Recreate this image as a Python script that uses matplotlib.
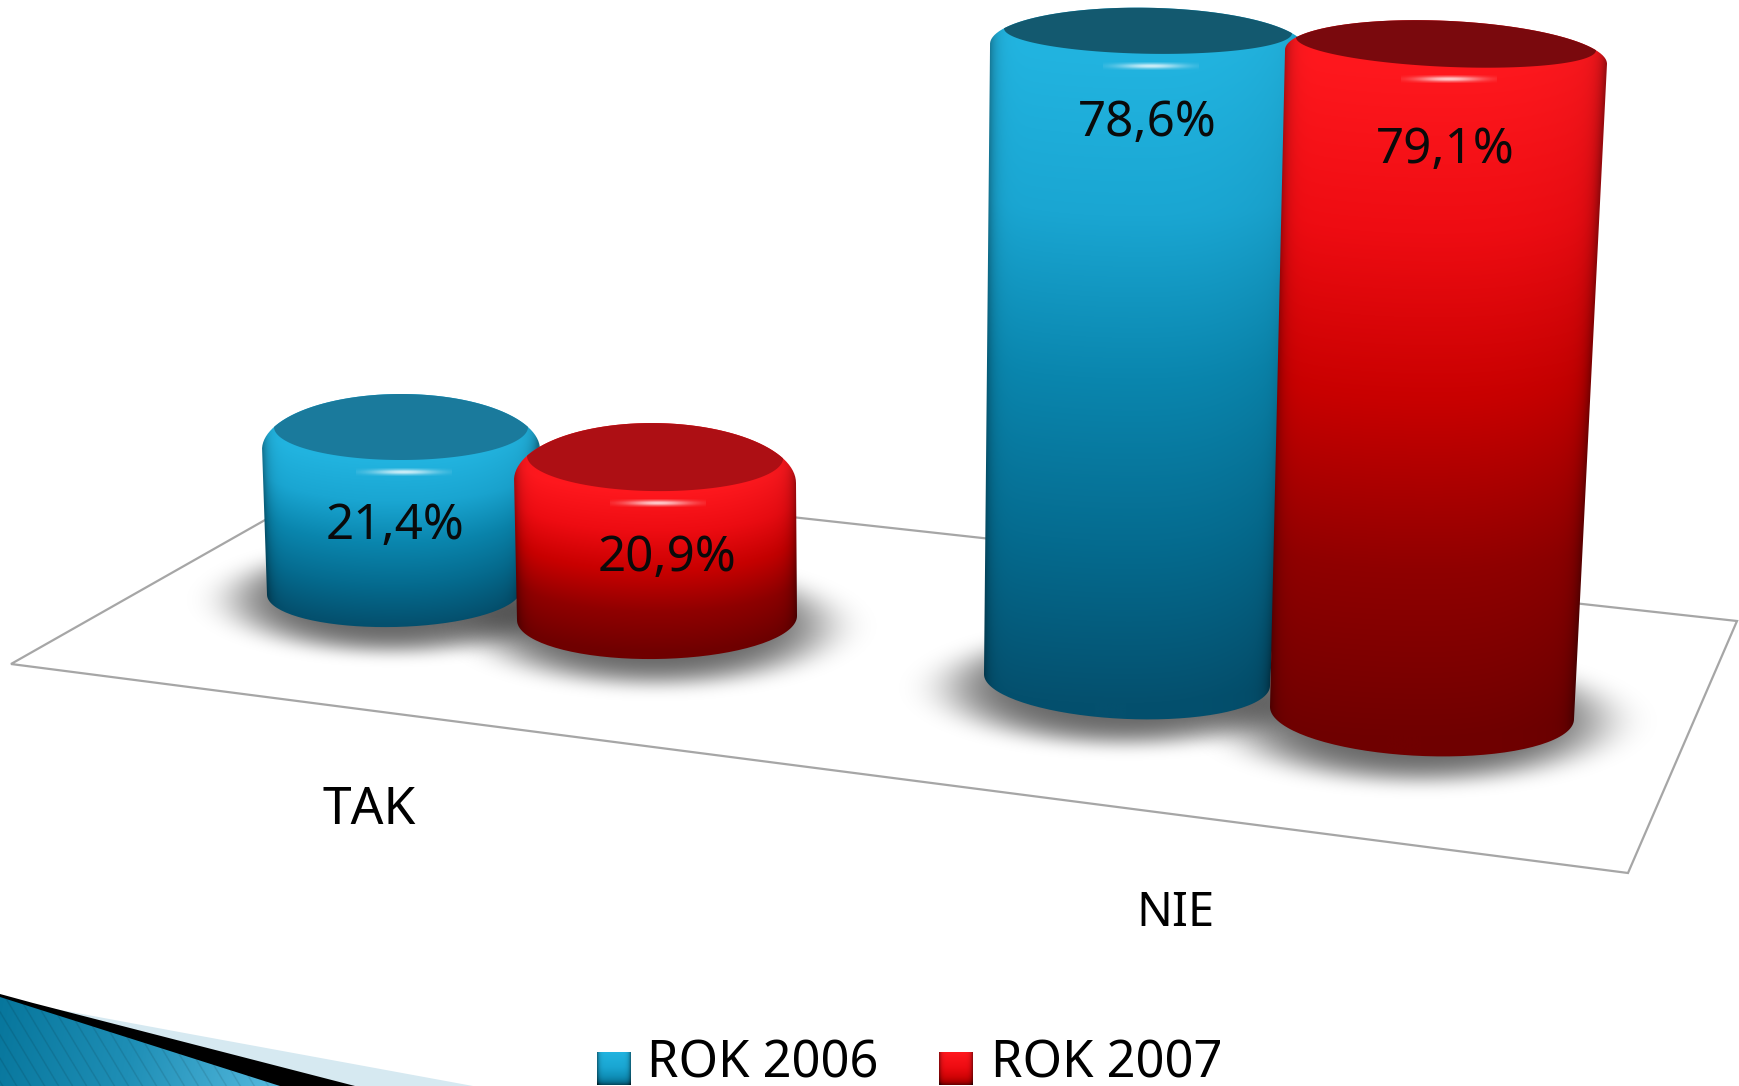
from matplotlib import pyplot as plt
from matplotlib.path import Path
from matplotlib.patches import Polygon, PathPatch
import matplotlib
import numpy as np
matplotlib.use('Agg')

categories = ['TAK', 'NIE']
series_names = ['ROK 2006', 'ROK 2007']
rok_2006 = [21.4, 78.6]
rok_2007 = [20.9, 79.1]

plt.rcParams['font.family'] = ['Noto Sans', 'DejaVu Sans']

W, H = 1740, 1086

blue_stops = ['#22b4e0', '#1aa6d2', '#0a86ae', '#056c90', '#04506e']
red_stops = ['#ff181e', '#ee0c12', '#c80000', '#900000', '#700000']
blue_top = ['#1a7a9c', '#13596f']
red_top = ['#ad0f14', '#7a090d']

# perspective: every cylinder has its own base and scale (px per percent)
# base_x, base_y, base_a, base_b, base_tilt, top_x, top_a, top_b, top_tilt, overhang, scale
geom_2006 = [(394, 592, 127, 35, -0.02, 401, 127, 33, 0.0, 12, 7.71),
             (1127, 680, 143, 39, 0.04, 1148, 144, 23, 0.017, 14, 8.26)]
geom_2007 = [(657, 618, 140, 41, -0.015, 655, 128, 34, 0.01, 13, 7.70),
             (1422, 713, 152, 43, 0.04, 1446, 150, 23, 0.043, 11, 8.46)]
label_pos_2006 = [(395, 526), (1147, 123)]
label_pos_2007 = [(667, 558), (1445, 150)]


def rgb(c):
    return np.array(matplotlib.colors.to_rgb(c))


def ramp(stops, t):
    t = np.clip(t, 0, 1)
    cols = np.array([rgb(c) for c in stops])
    return np.stack([np.interp(t, np.linspace(0, 1, len(stops)), cols[:, i]) for i in range(3)], axis=-1)


def glow(ax, cx, cy, sx, sy, color, peak, power=2.0, z=1):
    x0, x1 = cx - sx * 1.5, cx + sx * 1.5
    y0, y1 = cy - sy * 1.5, cy + sy * 1.5
    xx, yy = np.meshgrid(np.linspace(x0, x1, 240), np.linspace(y0, y1, 120))
    r2 = ((xx - cx) / sx) ** 2 + ((yy - cy) / sy) ** 2
    img = np.zeros(xx.shape + (4,))
    img[..., :3] = rgb(color)
    img[..., 3] = peak * np.exp(-r2 ** power)
    ax.imshow(img, extent=(x0, x1, y1, y0), aspect='auto', zorder=z, interpolation='bilinear')


def cylinder(ax, value, g, stops, top_cols, z):
    bx, by, ba, bb, bk, tx, ta, tb, tk, over, scale = g
    ty = by - value * scale

    # the outer top arc passes through both tips of the lid
    A = ta + over
    q = np.sqrt(1 - (ta / A) ** 2)
    d = q * tb / (1 - q)
    B = tb + d

    th = np.linspace(0, np.pi, 80)
    front = np.c_[bx + ba * np.cos(th), by + bb * np.sin(th) + bk * ba * np.cos(th)]
    th2 = np.linspace(np.pi, 2 * np.pi, 120)
    outer = np.c_[tx + A * np.cos(th2), ty + d + B * np.sin(th2) + tk * A * np.cos(th2)]
    body = Path(np.vstack([front, outer, front[:1]]))

    x0, x1 = min(bx - ba, tx - A) - 2, max(bx + ba, tx + A) + 2
    y0, y1 = ty - tb - 8, by + bb + 20
    xx, yy = np.meshgrid(np.linspace(x0, x1, 500), np.linspace(y0, y1, 800))
    v = np.clip((yy - ty) / (by - ty), 0, 1)
    cx = tx + (bx - tx) * v
    ca = A + (ba - A) * v
    u = np.clip((xx - cx) / ca, -1, 1)
    arc = np.sqrt(1 - u ** 2)
    t = (yy - (ty + tb * arc)) / (by - ty)
    img = ramp(stops, t)
    # darker only right at the sides
    side = 1 - 0.32 * np.abs(u) ** 24 - 0.06 * np.clip(u, 0, 1) ** 3
    img = img * side[..., None]
    im = ax.imshow(img, extent=(x0, x1, y1, y0), aspect='auto', zorder=z, interpolation='bilinear')
    im.set_clip_path(body, transform=ax.transData)

    # flat lid, darker than the side: outer arc between the tips, then its own lower arc
    col = top_cols[0] if value < 50 else top_cols[1]
    phi = np.arccos(ta / A)
    th4 = np.linspace(np.pi + phi, 2 * np.pi - phi, 100)
    lid_up = np.c_[tx + A * np.cos(th4), ty + d + B * np.sin(th4) + tk * A * np.cos(th4)]
    th5 = np.linspace(0, np.pi, 100)
    lid_low = np.c_[tx + ta * np.cos(th5), ty + tb * np.sin(th5) + tk * ta * np.cos(th5)]
    lid = Path(np.vstack([lid_up, lid_low, lid_up[:1]]))
    ax.add_patch(PathPatch(lid, facecolor=col, edgecolor='none', zorder=z + 0.1))
    # specular spot under the lid
    glow(ax, tx + 3, ty + tb + 12, 32, 2.6, '#ffffff', 0.8, power=1.0, z=z + 0.2)


fig = plt.figure(figsize=(W / 100, H / 100), dpi=100, facecolor='white')
ax = fig.add_axes([0, 0, 1, 1])

# floor of the chart
floor = [(11, 664), (355, 469), (1737, 621), (1628, 873)]
ax.add_patch(Polygon(floor, closed=True, facecolor='white', edgecolor='#a6a6a6', linewidth=1.6, zorder=1))

# shadows
for g in geom_2006 + geom_2007:
    glow(ax, g[0] - 2, g[1] + 8, g[2] + 30, g[3] + 17, '#000000', 0.6, power=3.0, z=2)

# bars, red in front of blue
for i in range(len(categories)):
    cylinder(ax, rok_2006[i], geom_2006[i], blue_stops, blue_top, 3 + i * 2)
    cylinder(ax, rok_2007[i], geom_2007[i], red_stops, red_top, 4 + i * 2)

for vals, pos in ((rok_2006, label_pos_2006), (rok_2007, label_pos_2007)):
    for v, p in zip(vals, pos):
        ax.text(p[0], p[1], f'{v:.1f}%'.replace('.', ','), fontsize=35.5, color='#0a0a0a',
                ha='center', va='center', zorder=10)

ax.text(369, 810, categories[0], fontsize=37, color='black', ha='center', va='center', zorder=10)
ax.text(1175, 914, categories[1], fontsize=34, color='black', ha='center', va='center', zorder=10)

# legend
legend_x = [(597, 631), (939, 973)]
legend_text_x = [647, 991]
for (a, b), tx, name, stops in zip(legend_x, legend_text_x, series_names, (blue_stops, red_stops)):
    yy, xx = np.mgrid[0:1:60j, -1:1:60j]
    img = ramp(stops, yy * 0.55) * (1 - 0.45 * np.abs(xx) ** 8 - 0.45 * yy ** 10)[..., None]
    ax.imshow(img, extent=(a, b, 1085, 1052), aspect='auto', zorder=5, interpolation='bilinear')
    ax.text(tx, 1078, name, fontsize=36.5, color='black', ha='left', va='baseline', zorder=10)

# corner decoration of the slide
ax.add_patch(Polygon([(50, 1008), (190, 1034), (473, 1086), (50, 1086)], closed=True,
                     facecolor='#d6e9f1', edgecolor='none', zorder=1))
ax.add_patch(Polygon([(0, 994), (33, 1003), (355, 1086), (0, 1086)], closed=True,
                     facecolor='black', edgecolor='none', zorder=1.1))
xx, yy = np.meshgrid(np.linspace(0, 290, 580), np.linspace(990, 1086, 192))
g = (xx + 0.2 * (yy - 990)) / 290
img = ramp(['#07769c', '#1f8fb6', '#52b7dc'], g)
stripes = ((xx - 0.6 * (yy - 990)) % 14) < 1.5
img = img * (1 - 0.12 * stripes)[..., None]
im = ax.imshow(img, extent=(0, 290, 1086, 990), aspect='auto', zorder=1.2, interpolation='bilinear')
im.set_clip_path(Path([(0, 997), (280, 1086), (0, 1086), (0, 997)]), transform=ax.transData)

ax.set_xlim(0, W)
ax.set_ylim(H, 0)
ax.axis('off')

plt.savefig('out.png', dpi=100)
plt.close()
